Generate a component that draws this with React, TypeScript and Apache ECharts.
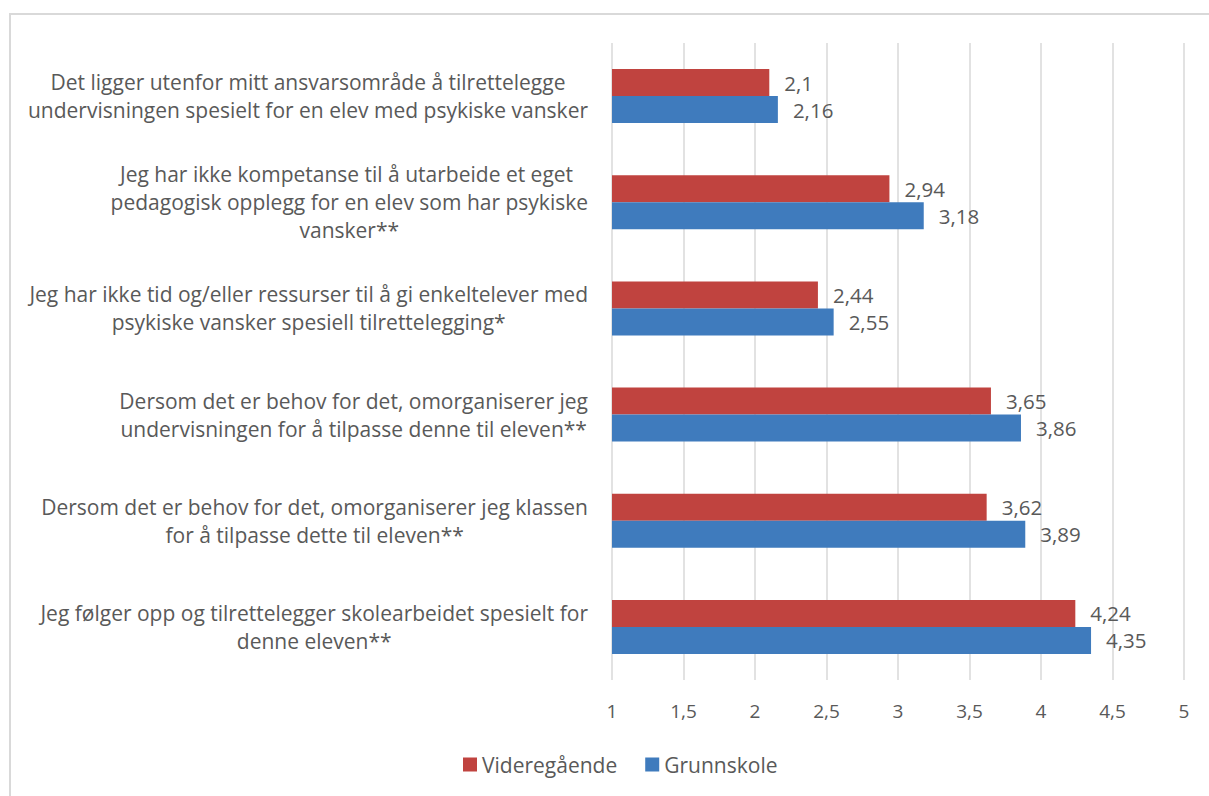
import React, { useEffect, useRef } from "react";
import * as echarts from "echarts";

const categories = [
  "Det ligger utenfor mitt ansvarsområde å tilrettelegge\nundervisningen spesielt for en elev med psykiske vansker",
  "Jeg har ikke kompetanse til å utarbeide et eget \npedagogisk opplegg for en elev som har psykiske\nvansker**",
  "Jeg har ikke tid og/eller ressurser til å gi enkeltelever med\npsykiske vansker spesiell tilrettelegging*",
  "Dersom det er behov for det, omorganiserer jeg\nundervisningen for å tilpasse denne til eleven**",
  "Dersom det er behov for det, omorganiserer jeg klassen\nfor å tilpasse dette til eleven**",
  "Jeg følger opp og tilrettelegger skolearbeidet spesielt for\ndenne eleven**",
];
const videregaende = [2.1, 2.94, 2.44, 3.65, 3.62, 4.24];
const grunnskole = [2.16, 3.18, 2.55, 3.86, 3.89, 4.35];
const seriesNames = ["Videregående", "Grunnskole"];
const xMin = 1;
const xMax = 5;
const xStep = 0.5;

const FONT = "Open Sans";
const TEXT = "#595959";

export default function App() {
  const ref = useRef<HTMLDivElement>(null);
  useEffect(() => {
    if (!ref.current) return;
    const chart = echarts.init(ref.current, null, { renderer: "svg" });
    const fmt = (v: number) => String(v).replace(".", ",");
    const labelCfg = {
      show: true,
      position: "right",
      distance: 15,
      color: TEXT,
      fontFamily: FONT,
      fontSize: 20.5,
      formatter: (p: any) => fmt(p.value),
    };
    chart.setOption({
      animation: false,
      textStyle: { fontFamily: FONT },
      graphic: [
        {
          type: "rect",
          shape: { x: 10, y: 14, width: 1400, height: 1000 },
          style: { fill: "none", stroke: "#d9d9d9", lineWidth: 2 },
          silent: true,
        },
      ],
      legend: {
        left: 458,
        top: 749,
        itemWidth: 14,
        itemHeight: 14,
        itemGap: 28,
        icon: "rect",
        textStyle: { color: TEXT, fontFamily: FONT, fontSize: 21 },
        data: seriesNames,
      },
      grid: { left: 612, right: 25, top: 43, bottom: 116, containLabel: false },
      xAxis: {
        type: "value",
        min: xMin,
        max: xMax,
        interval: xStep,
        axisLine: { show: false },
        axisTick: { show: false },
        splitLine: { show: true, lineStyle: { color: "#d9d9d9", width: 1.5 } },
        axisLabel: {
          color: TEXT,
          fontFamily: FONT,
          fontSize: 19,
          margin: 21,
          formatter: (v: number) => fmt(v),
        },
      },
      yAxis: {
        type: "category",
        inverse: true,
        data: categories,
        axisLine: { show: false },
        axisTick: { show: false },
        axisLabel: {
          color: TEXT,
          fontFamily: FONT,
          fontSize: 21,
          lineHeight: 28,
          margin: 24,
          align: "right",
          formatter: (v: string) =>
            v
              .split("\n")
              .map((l) => `{c|${l}}`)
              .join("\n"),
          rich: {
            c: {
              align: "center",
              color: TEXT,
              fontFamily: FONT,
              fontSize: 21,
              lineHeight: 28,
            },
          },
        },
      },
      series: [
        {
          name: seriesNames[0],
          type: "bar",
          data: videregaende,
          barWidth: 27,
          barGap: "0%",
          itemStyle: { color: "#c0433f" },
          label: labelCfg,
        },
        {
          name: seriesNames[1],
          type: "bar",
          data: grunnskole,
          barWidth: 27,
          barGap: "0%",
          itemStyle: { color: "#3f7bbd" },
          label: labelCfg,
        },
      ],
    });
    return () => chart.dispose();
  }, []);
  return (
    <div
      ref={ref}
      style={{ position: "absolute", left: 0, top: 0, width: 1209, height: 796 }}
    />
  );
}
